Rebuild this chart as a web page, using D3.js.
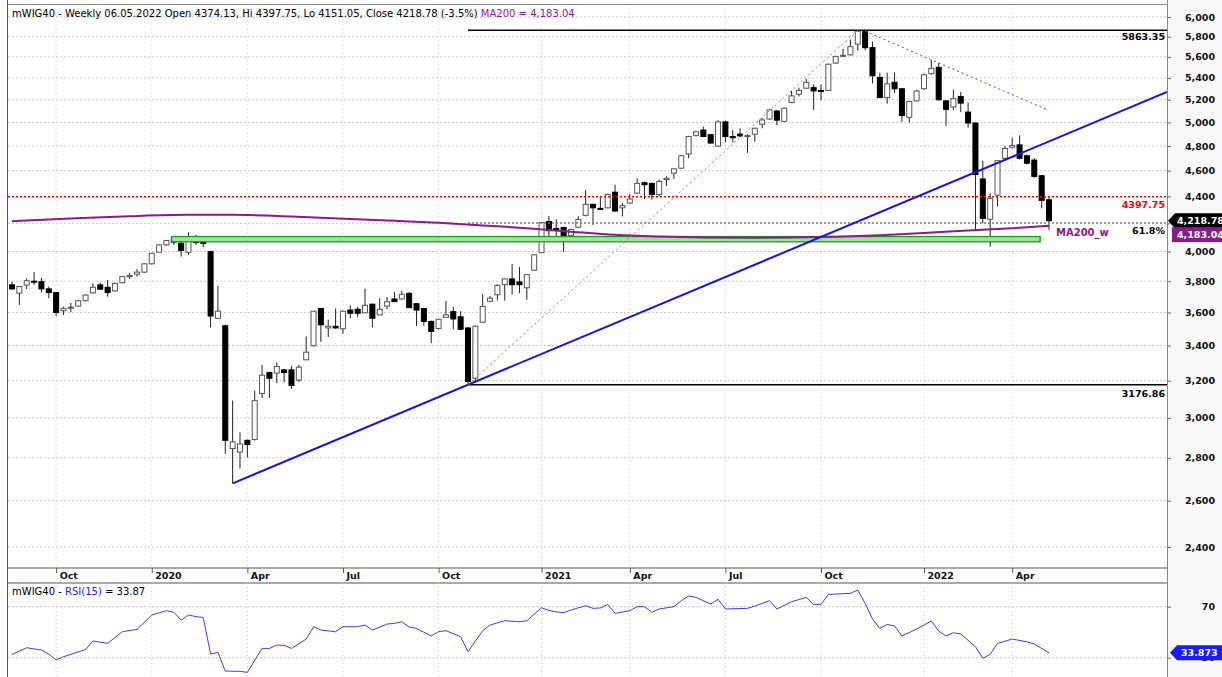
<!DOCTYPE html>
<html>
<head>
<meta charset="utf-8">
<script src="https://cdn.jsdelivr.net/npm/d3@7"></script>
<style>
  body { margin: 0; background: #fff; }
  svg { display: block; }
  text { font-family: "DejaVu Sans", sans-serif; }
</style>
</head>
<body>
<div id="chart"></div>
<script>
// weekly bars, first bar = week ending 23.08.2019, last = 06.05.2022
const opens = [3776,3722,3775,3800,3797,3750,3726,3611,3630,3640,3674,3724,3776,3760,3737,3790,3833,3846,3860,3916,
  3995,4046,4082,4058,3995,4082,4063,4000,3564,3518,2845,2828,2886,2890,3130,3245,3242,3260,3260,3203,
  3317,3399,3625,3505,3515,3500,3615,3620,3598,3652,3585,3640,3685,3685,3721,3655,3625,3545,3502,3570,
  3605,3573,3505,3213,3540,3670,3712,3777,3815,3795,3757,3873,3992,4213,4163,4170,4113,4172,4258,4340,
  4310,4314,4432,4314,4350,4425,4505,4500,4415,4530,4580,4620,4735,4890,4935,4895,4800,5005,4880,4900,
  4885,4900,4985,5030,5100,5010,5175,5250,5305,5310,5285,5285,5540,5612,5620,5725,5850,5690,5405,5220,
  5360,5300,5045,5190,5300,5440,5500,5190,5135,5230,5090,4995,4535,4230,4410,4700,4790,4810,4720,4685,
  4560,4374.13];
const highs = [3797,3768,3819,3860,3822,3765,3730,3636,3660,3680,3715,3786,3790,3808,3790,3835,3855,3880,3920,3990,
  4050,4080,4094,4070,4134,4117,4082,4005,3770,3525,3092,2926,2890,3144,3289,3250,3302,3262,3283,3289,
  3454,3610,3625,3556,3625,3612,3645,3635,3750,3655,3690,3697,3730,3738,3730,3660,3630,3550,3560,3672,
  3635,3608,3510,3520,3716,3705,3780,3818,3915,3895,3846,3980,4210,4254,4230,4175,4160,4252,4448,4345,
  4400,4420,4490,4350,4418,4540,4515,4505,4530,4555,4615,4725,4885,4930,4965,4900,5020,5015,4935,4950,
  4900,4955,5040,5115,5110,5130,5280,5310,5390,5340,5340,5535,5610,5680,5770,5863.35,5855,5750,5450,5450,
  5450,5305,5190,5290,5440,5570,5540,5195,5290,5270,5175,5000,4680,4425,4685,4800,4870,4890,4730,4700,
  4565,4397.75];
const lows = [3744,3647,3748,3776,3726,3690,3578,3585,3601,3636,3670,3720,3745,3700,3732,3786,3815,3830,3855,3912,
  3992,4040,4046,3965,3976,4046,4030,3508,3562,2820,2679,2749,2801,2885,3105,3105,3185,3190,3155,3192,
  3317,3395,3422,3450,3500,3470,3564,3570,3595,3508,3585,3620,3668,3680,3628,3517,3518,3413,3495,3570,
  3497,3495,3176.86,3190,3535,3665,3675,3675,3714,3722,3680,3870,3990,4105,4105,3998,4110,4165,4250,4188,
  4300,4310,4285,4250,4345,4420,4380,4375,4400,4480,4535,4615,4700,4880,4875,4820,4795,4830,4830,4875,
  4745,4835,4950,5025,4975,5005,5170,5230,5300,5110,5195,5280,5535,5600,5615,5660,5665,5350,5215,5165,
  5260,5005,5000,5185,5290,5430,5195,4970,5110,5090,4955,4150,4200,4033,4325,4690,4780,4690,4650,4545,
  4310,4151.05];
const closes = [3750,3765,3803,3797,3750,3726,3600,3626,3633,3674,3710,3760,3748,3726,3786,3830,3837,3860,3916,3988,
  4046,4077,4066,4006,4074,4063,4058,3578,3608,2886,2878,2868,2865,3091,3230,3213,3279,3245,3173,3275,
  3361,3608,3524,3515,3505,3608,3595,3595,3645,3564,3620,3667,3668,3715,3630,3615,3545,3484,3558,3585,
  3560,3497,3195,3515,3638,3690,3773,3815,3777,3777,3843,3977,4205,4147,4160,4105,4155,4228,4340,4314,
  4304,4415,4290,4330,4380,4500,4490,4415,4515,4540,4615,4720,4880,4920,4880,4825,5005,4880,4870,4885,
  4888,4950,5022,5110,5020,5125,5235,5285,5360,5280,5283,5530,5605,5615,5700,5855,5690,5420,5220,5345,
  5300,5060,5185,5280,5430,5490,5200,5115,5210,5170,4995,4570,4235,4385,4680,4780,4805,4700,4660,4555,
  4370,4218.78];

// date axis: bar index of the first week of each labelled month
const tickIdx = [6, 19, 32, 45, 58, 72, 84, 97, 110, 124, 136];
const tickLabels = ["Oct", "2020", "Apr", "Jul", "Oct", "2021", "Apr", "Jul", "Oct", "2022", "Apr"];
const priceTicks = [2400, 2600, 2800, 3000, 3200, 3400, 3600, 3800, 4000, 4200, 4400, 4600, 4800, 5000, 5200, 5400, 5600, 5800, 6000];

// MA200 (weekly), read at some bars
const maIdx = [0, 8, 16, 24, 30, 38, 46, 52, 58, 64, 70, 76, 82, 88, 94, 100, 106, 112, 118, 124, 130, 136, 141];
const maVal = [4215, 4235, 4252, 4262, 4262, 4250, 4232, 4218, 4204, 4185, 4165, 4140, 4117, 4105, 4098, 4096, 4098, 4104, 4115, 4130, 4148, 4165, 4183.04];

// RSI(15)
const rsiIdx = [0, 2, 4, 5, 6, 7, 8, 10, 11, 13, 15, 17, 19, 21, 22, 23, 24, 25, 26, 27, 28, 29, 31, 32, 34, 35, 36, 37, 38,
  40, 41, 42, 44, 45, 47, 48, 49, 51, 52, 53, 54, 55, 57, 58, 59, 61, 62, 64, 65, 67, 69, 70, 72, 73, 74, 75, 76, 78, 79,
  80, 81, 82, 84, 85, 86, 87, 88, 90, 91, 92, 93, 95, 96, 97, 100, 101, 103, 104, 106, 108, 109, 110, 111, 112, 114,
  115, 116, 117, 118, 119, 120, 121, 123, 124, 125, 126, 127, 128, 129, 131, 132, 133, 134, 136, 138, 139, 141];
const rsiVal = [32.6, 37.8, 36.0, 32.9, 28.2, 30.8, 32.6, 36.5, 43.1, 41.2, 50.4, 52.2, 63.5, 66.9, 65.6, 59.5, 63.5, 62.2, 61.6, 32.9, 34.2, 19.5, 19.3, 18.5, 37.3, 37.3, 39.9, 39.7, 37.3,
  44.6, 54.3, 51.7, 50.4, 54.3, 54.3, 55.6, 51.7, 56.4, 56.9, 58.2, 54.0, 53.0, 47.0, 50.4, 51.2, 46.5, 34.7, 51.2, 55.6, 59.0, 58.2, 59.0, 69.2, 67.0, 66.0, 65.3, 67.4, 70.8, 68.7,
  69.0, 71.8, 64.8, 66.9, 70.0, 70.0, 65.6, 68.2, 70.0, 74.7, 78.4, 77.3, 72.1, 75.8, 68.2, 68.7, 70.5, 74.7, 68.2, 73.9, 77.3, 71.8, 71.8, 79.7, 79.9, 80.5,
  83.1, 72.6, 60.3, 53.0, 56.1, 54.8, 47.0, 52.5, 55.6, 58.8, 50.9, 47.0, 49.6, 48.6, 38.6, 29.5, 32.6, 41.2, 44.6, 42.5, 40.7, 33.87];

// drawn levels and studies
const levelHigh = 5863.35, levelLow = 3176.86, levelRed = 4397.75;
const fibLevel = levelHigh - 0.618 * (levelHigh - levelLow);
const levelStart = 62;
const zoneIdx = [21.7, 139.8], zonePrice = [4068, 4105];
const trendIdx = [30, 62], trendPrice = [2679, 3176.86];
const upIdx = [62, 115], upPrice = [3176.86, 5863.35];
const downIdx = [116, 140.8], downPrice = [5855, 5110];

const W = 1222, H = 677;
const plotL = 8, plotR = 1167, plotT = 4.5, mainBottom = 568, stripBottom = 583;

const svg = d3.select("#chart").append("svg").attr("width", W).attr("height", H);
svg.append("rect").attr("width", W).attr("height", H).attr("fill", "#fff");
svg.append("rect").attr("x", plotR).attr("y", 0).attr("width", W - plotR).attr("height", H).attr("fill", "#f8f8f8");

const x = d3.scaleLinear().domain([0, opens.length - 1]).range([12, 1049]);
const y = d3.scaleLog().domain([2400, 6000]).range([547, 17]);
const yR = d3.scaleLinear().domain([30, 70]).range([657.7, 606.7]);

const defs = svg.append("defs");
defs.append("clipPath").attr("id", "mainClip").append("rect")
  .attr("x", plotL).attr("y", plotT).attr("width", plotR - plotL).attr("height", mainBottom - plotT);
defs.append("clipPath").attr("id", "rsiClip").append("rect")
  .attr("x", plotL).attr("y", stripBottom).attr("width", plotR - plotL).attr("height", H - stripBottom);

// ---------- main panel ----------
const main = svg.append("g").attr("clip-path", "url(#mainClip)");

main.selectAll("line.hgrid").data(priceTicks).join("line").attr("class", "hgrid")
  .attr("x1", plotL).attr("x2", plotR).attr("y1", d => y(d)).attr("y2", d => y(d))
  .attr("stroke", "#c8c8c8").attr("stroke-dasharray", "2,2");
main.selectAll("line.vgrid").data(tickIdx).join("line").attr("class", "vgrid")
  .attr("x1", d => x(d)).attr("x2", d => x(d)).attr("y1", plotT).attr("y2", mainBottom)
  .attr("stroke", "#c8c8c8").attr("stroke-dasharray", "1,3");

// candles
const bars = d3.range(opens.length);
main.selectAll("line.wick").data(bars).join("line").attr("class", "wick")
  .attr("x1", i => x(i)).attr("x2", i => x(i))
  .attr("y1", i => y(highs[i])).attr("y2", i => y(lows[i]))
  .attr("stroke", "#222").attr("stroke-width", 1);
main.selectAll("rect.body").data(bars).join("rect").attr("class", "body")
  .attr("x", i => x(i) - 2.5).attr("width", 5)
  .attr("y", i => y(Math.max(opens[i], closes[i])))
  .attr("height", i => Math.max(1, Math.abs(y(opens[i]) - y(closes[i]))))
  .attr("fill", i => closes[i] >= opens[i] ? "#fff" : "#000")
  .attr("stroke", i => closes[i] >= opens[i] ? "#555" : "#000")
  .attr("stroke-width", 1);

// levels
main.append("line").attr("x1", plotL).attr("x2", plotR).attr("y1", y(levelRed)).attr("y2", y(levelRed))
  .attr("stroke", "#ff0000").attr("stroke-width", 1.5).attr("stroke-dasharray", "2,2");
main.append("line").attr("x1", x(levelStart)).attr("x2", plotR).attr("y1", y(fibLevel)).attr("y2", y(fibLevel))
  .attr("stroke", "#808080").attr("stroke-width", 1.5).attr("stroke-dasharray", "2,2");
main.append("rect")
  .attr("x", x(zoneIdx[0])).attr("width", x(zoneIdx[1]) - x(zoneIdx[0]))
  .attr("y", y(zonePrice[1])).attr("height", y(zonePrice[0]) - y(zonePrice[1]))
  .attr("fill", "#9fe39f").attr("stroke", "#1e9a1e").attr("stroke-width", 1.3);

// MA200
main.append("path")
  .datum(maIdx.map((d, i) => [d, maVal[i]]))
  .attr("d", d3.line().x(d => x(d[0])).y(d => y(d[1])).curve(d3.curveMonotoneX))
  .attr("fill", "none").attr("stroke", "#8b1a8b").attr("stroke-width", 2);

[levelHigh, levelLow].forEach(v => {
  main.append("line").attr("x1", x(levelStart)).attr("x2", plotR).attr("y1", y(v)).attr("y2", y(v))
    .attr("stroke", "#000").attr("stroke-width", 1.5);
});

// trend lines
const tx0 = x(trendIdx[0]), ty0 = y(trendPrice[0]);
const slope = (y(trendPrice[1]) - ty0) / (x(trendIdx[1]) - tx0);
main.append("line").attr("x1", tx0).attr("y1", ty0)
  .attr("x2", plotR).attr("y2", ty0 + slope * (plotR - tx0))
  .attr("stroke", "#1414e6").attr("stroke-width", 2);
main.append("line")
  .attr("x1", x(upIdx[0])).attr("y1", y(upPrice[0])).attr("x2", x(upIdx[1])).attr("y2", y(upPrice[1]))
  .attr("stroke", "#ff5a5a").attr("stroke-width", 1).attr("stroke-dasharray", "2,3");
main.append("line")
  .attr("x1", x(downIdx[0])).attr("y1", y(downPrice[0])).attr("x2", x(downIdx[1])).attr("y2", y(downPrice[1]))
  .attr("stroke", "#4a4aff").attr("stroke-width", 1).attr("stroke-dasharray", "2,3");

// level labels
const lab = svg.append("g").attr("font-size", 9.5).attr("font-weight", "bold").attr("text-anchor", "end");
lab.append("text").attr("x", 1165).attr("y", y(levelHigh) + 10).text(levelHigh.toFixed(2));
lab.append("text").attr("x", 1165).attr("y", y(levelLow) + 12).text(levelLow.toFixed(2));
lab.append("text").attr("x", 1165).attr("y", y(levelRed) + 11).attr("fill", "#ff0000").text(levelRed.toFixed(2));
lab.append("text").attr("x", 1165).attr("y", y(fibLevel) + 11).text("61.8%");
svg.append("text").attr("x", 1056).attr("y", y(maVal[maVal.length - 1]) + 10)
  .attr("font-size", 10).attr("font-weight", "bold").attr("fill", "#8b1a8b").text("MA200_w");

// ---------- frames ----------
svg.append("line").attr("x1", plotL).attr("x2", plotR).attr("y1", plotT).attr("y2", plotT).attr("stroke", "#888");
svg.append("line").attr("x1", plotL).attr("x2", plotR).attr("y1", mainBottom).attr("y2", mainBottom).attr("stroke", "#555");
svg.append("line").attr("x1", plotL).attr("x2", plotR).attr("y1", stripBottom).attr("y2", stripBottom).attr("stroke", "#555");
svg.append("line").attr("x1", plotL - 0.5).attr("x2", plotL - 0.5).attr("y1", 0).attr("y2", H).attr("stroke", "#555");

// price axis
const yAxis = svg.append("g").attr("transform", `translate(${plotR},0)`)
  .call(d3.axisRight(y).tickValues(priceTicks).tickFormat(d3.format(",")).tickSize(4));
yAxis.select(".domain").attr("stroke", "#888").attr("d", `M0.5,0V${H}`);
yAxis.selectAll(".tick line").attr("stroke", "#666");
yAxis.selectAll("text").attr("x", 48).attr("text-anchor", "end")
  .attr("font-family", "DejaVu Sans").attr("font-size", 9.5).attr("font-weight", "bold").attr("fill", "#111");

// last close and MA value flags
const yc = y(closes[closes.length - 1]);
svg.append("path").attr("d", `M1168,${yc}L1175,${yc - 7.5}H1222V${yc + 7.5}H1175Z`).attr("fill", "#000");
svg.append("text").attr("x", 1177).attr("y", yc + 3.5).attr("fill", "#fff")
  .attr("font-size", 9.5).attr("font-weight", "bold").text(d3.format(",.2f")(closes[closes.length - 1]));
const ym = y(maVal[maVal.length - 1]) + 9;
svg.append("rect").attr("x", 1172).attr("y", ym - 7.5).attr("width", 50).attr("height", 15).attr("fill", "#8b1a8b");
svg.append("text").attr("x", 1177).attr("y", ym + 3.5).attr("fill", "#fff")
  .attr("font-size", 9.5).attr("font-weight", "bold").text(d3.format(",.2f")(maVal[maVal.length - 1]));

// date axis
const xAxis = svg.append("g").attr("transform", `translate(0,${mainBottom})`)
  .call(d3.axisBottom(x).tickValues(tickIdx).tickFormat((d, i) => tickLabels[i]).tickSize(5));
xAxis.select(".domain").remove();
xAxis.selectAll(".tick line").attr("stroke", "#555");
xAxis.selectAll("text").attr("x", 3).attr("y", 4).attr("dy", "0.71em").attr("text-anchor", "start")
  .attr("font-family", "DejaVu Sans").attr("font-size", 9.5).attr("font-weight", "bold").attr("fill", "#111");

// ---------- RSI panel ----------
const rsi = svg.append("g").attr("clip-path", "url(#rsiClip)");
rsi.selectAll("line.hgrid").data([30, 70]).join("line").attr("class", "hgrid")
  .attr("x1", plotL).attr("x2", plotR).attr("y1", d => yR(d)).attr("y2", d => yR(d))
  .attr("stroke", "#c8c8c8").attr("stroke-dasharray", "2,2");
rsi.selectAll("line.vgrid").data(tickIdx).join("line").attr("class", "vgrid")
  .attr("x1", d => x(d)).attr("x2", d => x(d)).attr("y1", stripBottom).attr("y2", H)
  .attr("stroke", "#c8c8c8").attr("stroke-dasharray", "1,3");
rsi.append("path")
  .datum(rsiIdx.map((d, i) => [d, rsiVal[i]]))
  .attr("d", d3.line().x(d => x(d[0])).y(d => yR(d[1])))
  .attr("fill", "none").attr("stroke", "#3c3cff").attr("stroke-width", 1);

const rAxis = svg.append("g").attr("transform", `translate(${plotR},0)`)
  .call(d3.axisRight(yR).tickValues([30, 70]).tickSize(4));
rAxis.select(".domain").remove();
rAxis.selectAll(".tick line").attr("stroke", "#666");
rAxis.selectAll("text").attr("x", 48).attr("text-anchor", "end")
  .attr("font-family", "DejaVu Sans").attr("font-size", 9.5).attr("font-weight", "bold").attr("fill", "#111");

const yr = yR(rsiVal[rsiVal.length - 1]);
svg.append("path").attr("d", `M1170,${yr}L1177,${yr - 7.5}H1222V${yr + 7.5}H1177Z`).attr("fill", "#1a1aff");
svg.append("text").attr("x", 1181).attr("y", yr + 3.5).attr("fill", "#fff")
  .attr("font-size", 9.5).attr("font-weight", "bold").text("33.873");

// ---------- titles ----------
const title = svg.append("text").attr("x", 12).attr("y", 17).attr("font-size", 10).attr("fill", "#000");
title.append("tspan").text("mWIG40 - Weekly 06.05.2022 Open 4374.13, Hi 4397.75, Lo 4151.05, Close 4218.78 (-3.5%) ");
title.append("tspan").attr("fill", "#8b1a8b").text("MA200 = 4,183.04");

const rtitle = svg.append("text").attr("x", 12).attr("y", 595).attr("font-size", 10).attr("fill", "#000");
rtitle.append("tspan").text("mWIG40 - ");
rtitle.append("tspan").attr("fill", "#2020ff").text("RSI(15)");
rtitle.append("tspan").text(" = 33.87");
</script>
</body>
</html>
